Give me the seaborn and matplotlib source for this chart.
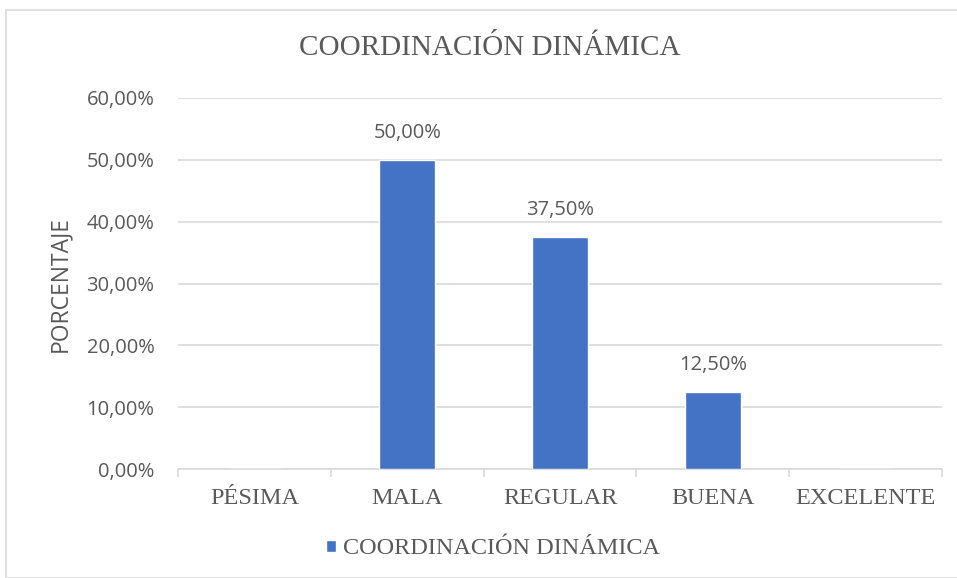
import matplotlib
matplotlib.use("Agg")
import matplotlib.pyplot as plt
import seaborn as sns
import pandas as pd
from matplotlib.patches import Rectangle
from matplotlib.ticker import FuncFormatter, FixedLocator

categories = ["PÉSIMA", "MALA", "REGULAR", "BUENA", "EXCELENTE"]
values = [0.0, 50.0, 37.5, 12.5, 0.0]
series_name = "COORDINACIÓN DINÁMICA"
title = "COORDINACIÓN DINÁMICA"
ylabel = "PORCENTAJE"
yticks = [0, 10, 20, 30, 40, 50, 60]

df = pd.DataFrame({"cat": categories, "val": values})

sns.set_theme(style="white")
SERIF = ["Liberation Serif", "DejaVu Serif"]
SANS = ["Open Sans", "DejaVu Sans"]
TXT = "#595959"
BLUE = "#4472C4"

fig = plt.figure(figsize=(9.57, 5.78), dpi=100)
fig.patches.append(Rectangle((6/957, 0), 1.0, 1 - 10/578, transform=fig.transFigure,
                             fill=False, edgecolor="#d9d9d9", linewidth=1.2, zorder=0))
ax = fig.add_axes([178/957, 1 - 469/578, (942 - 178)/957, (469 - 98)/578])

sns.barplot(data=df, x="cat", y="val", color=BLUE, width=0.365, saturation=1,
            ax=ax, zorder=3, label=series_name)

ax.set_ylim(0, 60)
ax.set_xlim(-0.5, 4.5)
ax.yaxis.set_major_locator(FixedLocator(yticks))
ax.yaxis.set_major_formatter(FuncFormatter(lambda v, p: f"{v:.2f}".replace(".", ",") + "%"))
ax.grid(axis="y", color="#d9d9d9", linewidth=1.2, zorder=0)
ax.grid(axis="x", visible=False)
for s in ["top", "right", "left"]:
    ax.spines[s].set_visible(False)
ax.spines["bottom"].set_color("#d9d9d9")
ax.spines["bottom"].set_linewidth(1.2)

ax.tick_params(axis="y", length=0, pad=17, labelsize=14.5, labelcolor=TXT)
for t in ax.get_yticklabels():
    t.set_family(SANS)
ax.tick_params(axis="x", which="major", length=0, pad=14, labelsize=17.5, labelcolor=TXT)
for t in ax.get_xticklabels():
    t.set_family(SERIF)
ax.set_xticks([i - 0.5 for i in range(len(categories) + 1)], minor=True)
ax.tick_params(axis="x", which="minor", length=6, width=1.2, color="#d9d9d9", direction="out", bottom=True)

ax.set_xlabel("")
ax.set_ylabel(ylabel, family=SANS, fontsize=16.5, color=TXT, labelpad=10)

labels = [(f"{v:.2f}".replace(".", ",") + "%") if v > 0 else "" for v in values]
ax.bar_label(ax.containers[0], labels=labels, padding=12, fontsize=14.5, color=TXT, family=SANS)

fig.text(490/957, 1 - 48/578, title, ha="center", va="center", family=SERIF, fontsize=21, color=TXT)

leg = ax.legend(loc="center", bbox_to_anchor=(493/957, 1 - 549/578), bbox_transform=fig.transFigure,
                frameon=False, handlelength=0.4, handleheight=0.4, handletextpad=0.3,
                prop={"family": SERIF, "size": 17.5})
for t in leg.get_texts():
    t.set_color(TXT)

fig.savefig("out.png", dpi=100)
